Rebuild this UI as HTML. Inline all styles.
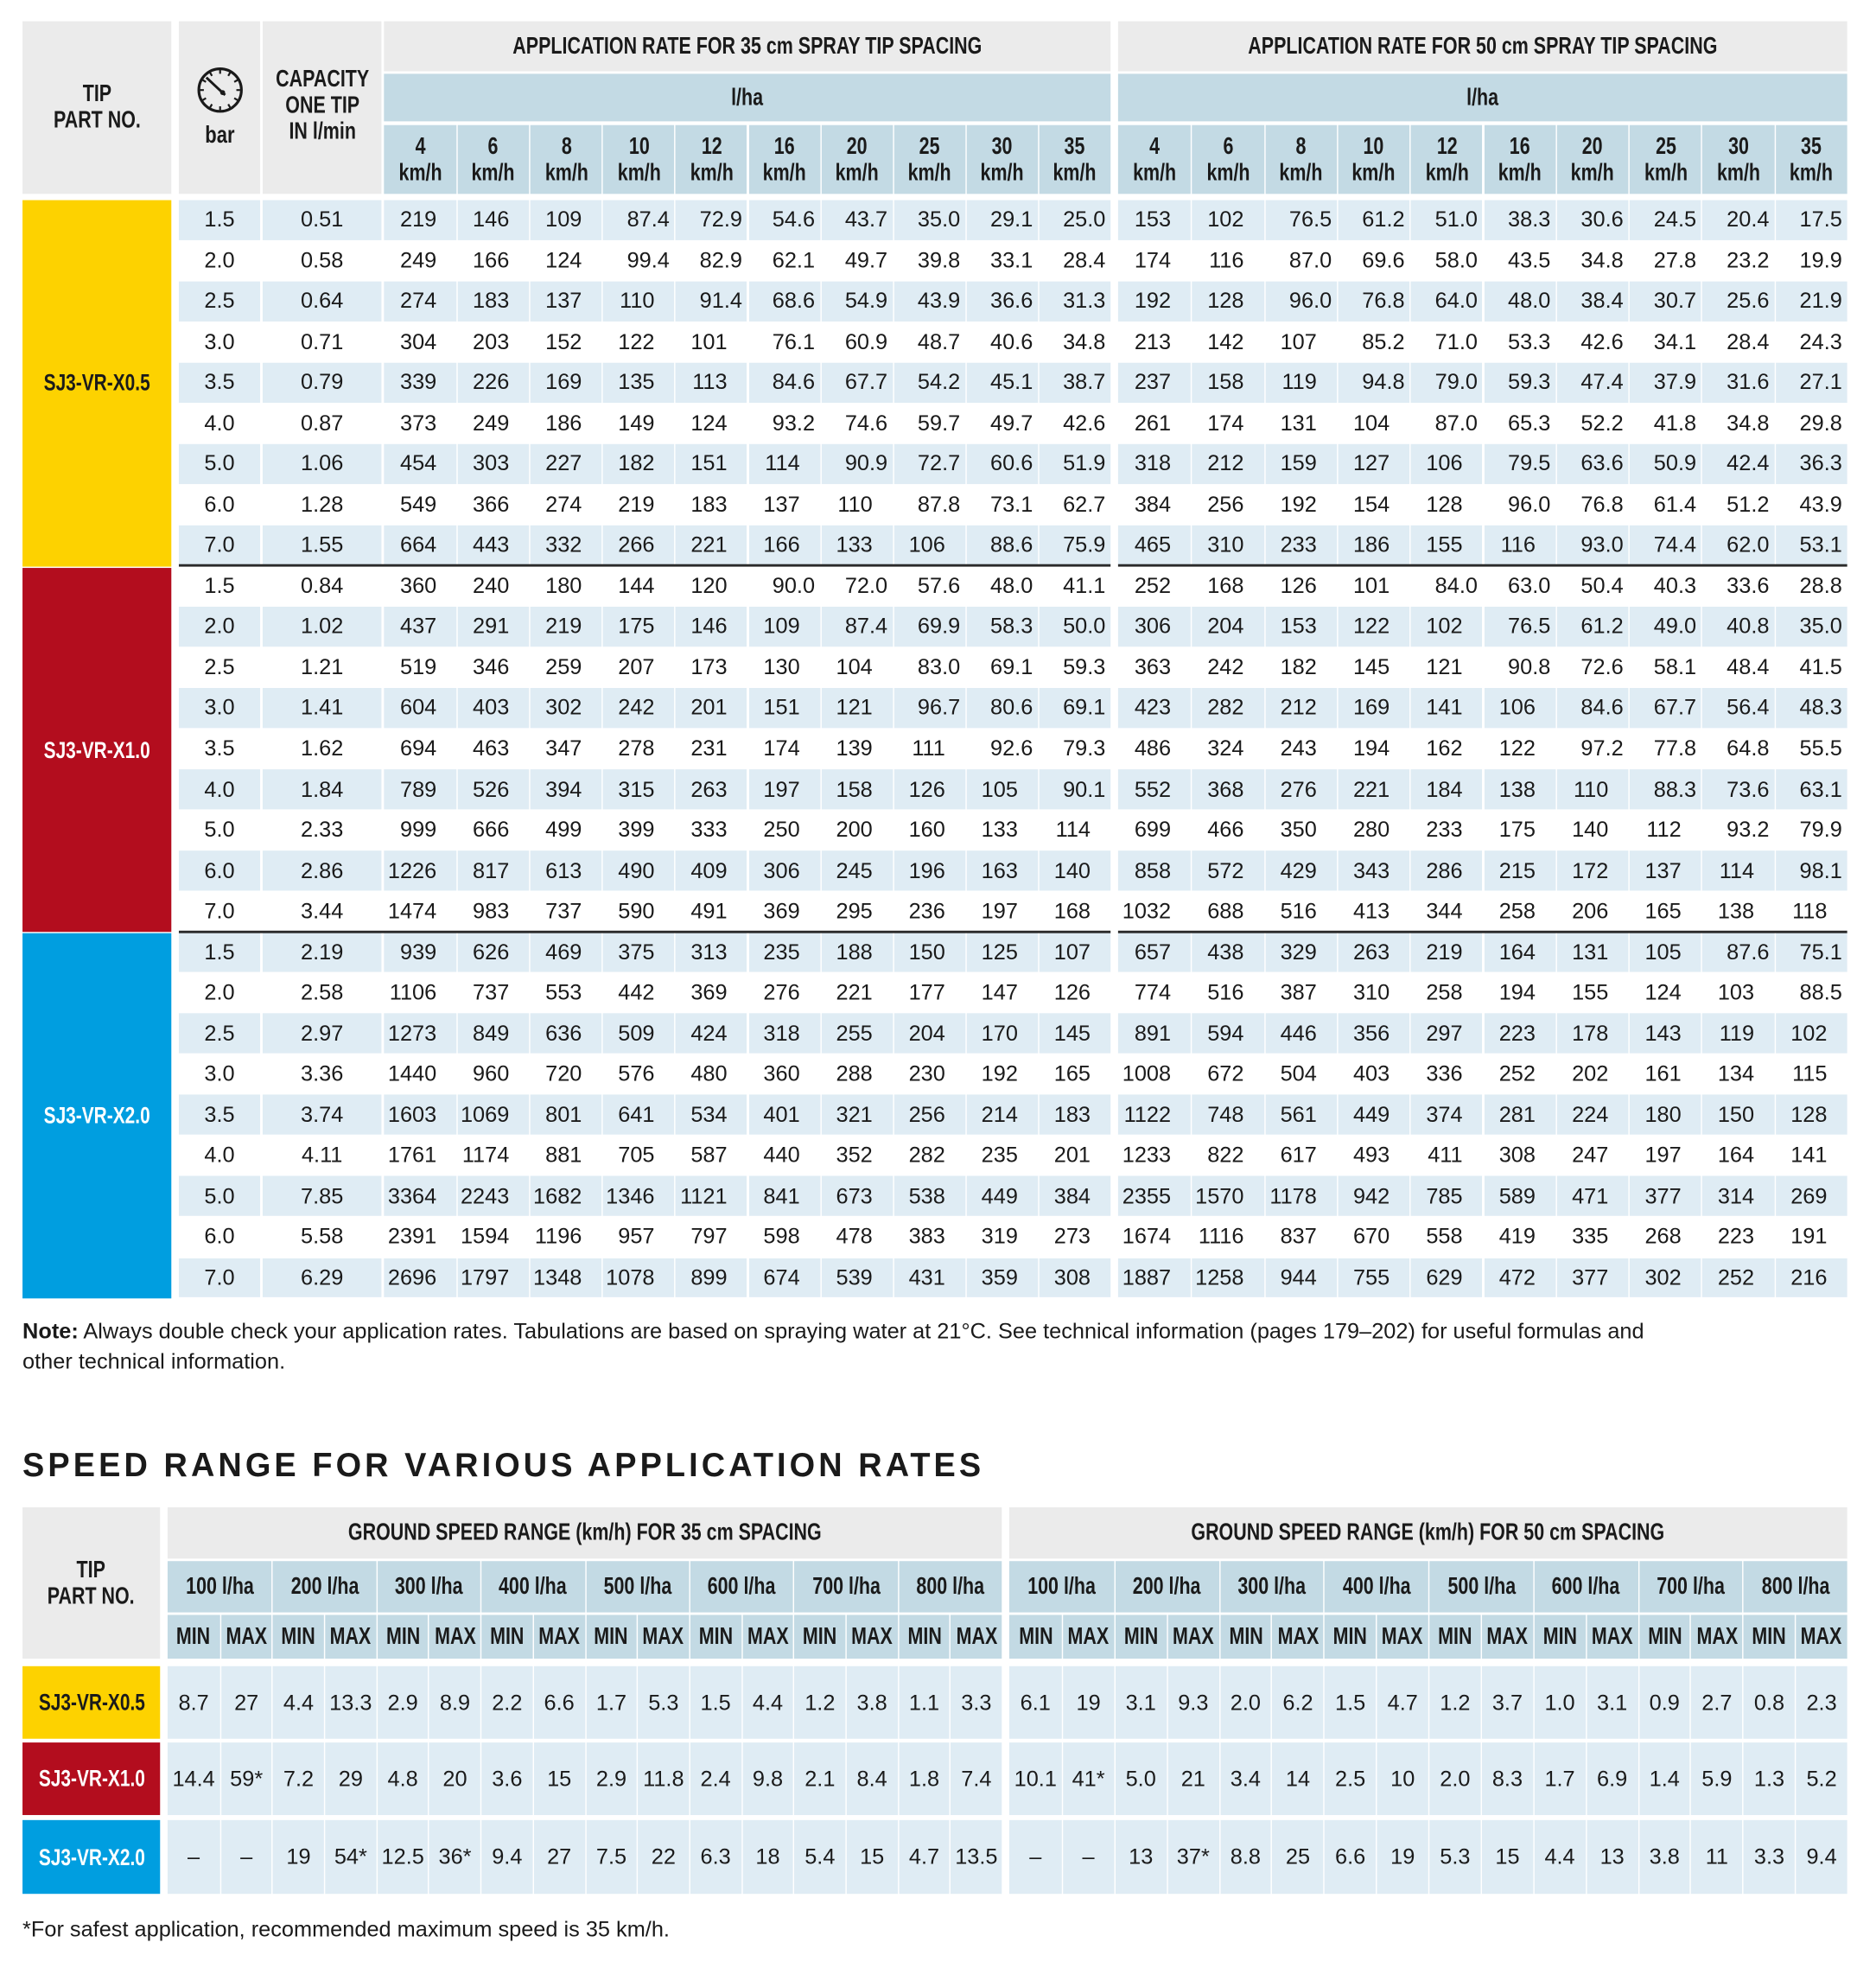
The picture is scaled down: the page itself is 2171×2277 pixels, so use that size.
<!DOCTYPE html>
<html><head><meta charset="utf-8"><style>
html,body{margin:0;padding:0;background:#fff;width:2171px;height:2277px;overflow:hidden}
#w{position:absolute;left:0;top:0;width:1500px;height:1573px;transform:scale(1.4473);transform-origin:0 0;font-family:"Liberation Sans",sans-serif;color:#1a1a1a}
.c{position:absolute;box-sizing:border-box;display:flex;align-items:center;justify-content:center;text-align:center;overflow:visible;white-space:nowrap}
.h{font-weight:bold;font-size:19px;line-height:21px}
.h>span,.t>span{display:inline-block;transform:scaleX(0.78)}
.d{font-size:17.5px}
.r{justify-content:flex-end}
.g{background:#ebebeb}.b{background:#c3dae4}.l{background:#dfecf4}
.t{color:#fff;font-weight:bold;font-size:18.5px}
.ln{position:absolute;height:2px;background:#2a2a2a}
.txt{position:absolute;white-space:nowrap}
</style></head><body><div id="w"></div>
<script>
var W=document.getElementById('w');
function cell(x,y,w,h,cls,txt,style){var d=document.createElement('div');d.className='c '+cls;d.style.left=x+'px';d.style.top=y+'px';d.style.width=w+'px';d.style.height=h+'px';if(style)d.style.cssText+=style;
if(/\b(h|t)\b/.test(cls))d.innerHTML='<span>'+(txt||'')+'</span>';else d.innerHTML=txt||'';W.appendChild(d);return d;}
cell(18,17,119,138,'g h','TIP<br>PART NO.');
var gd=document.createElement('div');gd.className='c';gd.style.cssText='left:143px;top:17px;width:65px;height:138px;background:#ebebeb;flex-direction:column;font-weight:bold;font-size:19px';
gd.innerHTML='<svg width="40" height="40" viewBox="0 0 40 40"><circle cx="20" cy="20" r="17" fill="none" stroke="#1a1a1a" stroke-width="2.2"/><g stroke="#1a1a1a" stroke-width="1.5">'+
(function(){var s='';for(var i=0;i<12;i++){var a=i*Math.PI/6;s+='<line x1="'+(20+13*Math.cos(a)).toFixed(1)+'" y1="'+(20+13*Math.sin(a)).toFixed(1)+'" x2="'+(20+16*Math.cos(a)).toFixed(1)+'" y2="'+(20+16*Math.sin(a)).toFixed(1)+'"/>';}return s;})()+
'<line x1="9" y1="10" x2="24" y2="24" stroke-width="2"/></g><circle cx="22" cy="22" r="2" fill="#1a1a1a"/></svg><div style="margin-top:6px;transform:scaleX(0.8)">bar</div>';W.appendChild(gd);
cell(210,17,95,138,'g h','CAPACITY<br>ONE TIP<br>IN l/min','align-items:flex-start;padding-top:36px');
var speeds=[4,6,8,10,12,16,20,25,30,35];
var groups=[[307,888,'35'],[894,1477,'50']];
groups.forEach(function(g){var x0=g[0],x1=g[1],cw=(x1-x0)/10;
cell(x0,17,x1-x0,40,'g h','APPLICATION RATE FOR '+g[2]+' cm SPRAY TIP SPACING');
cell(x0,59,x1-x0,38,'b h','l/ha');
for(var i=0;i<10;i++)cell(x0+i*cw+(i?1:0),100,cw-(i?1:0),55,'b h',speeds[i]+'<br>km/h');
});
var D=[
["1.5","0.51","219 146 109 87.4 72.9 54.6 43.7 35.0 29.1 25.0","153 102 76.5 61.2 51.0 38.3 30.6 24.5 20.4 17.5"],
["2.0","0.58","249 166 124 99.4 82.9 62.1 49.7 39.8 33.1 28.4","174 116 87.0 69.6 58.0 43.5 34.8 27.8 23.2 19.9"],
["2.5","0.64","274 183 137 110 91.4 68.6 54.9 43.9 36.6 31.3","192 128 96.0 76.8 64.0 48.0 38.4 30.7 25.6 21.9"],
["3.0","0.71","304 203 152 122 101 76.1 60.9 48.7 40.6 34.8","213 142 107 85.2 71.0 53.3 42.6 34.1 28.4 24.3"],
["3.5","0.79","339 226 169 135 113 84.6 67.7 54.2 45.1 38.7","237 158 119 94.8 79.0 59.3 47.4 37.9 31.6 27.1"],
["4.0","0.87","373 249 186 149 124 93.2 74.6 59.7 49.7 42.6","261 174 131 104 87.0 65.3 52.2 41.8 34.8 29.8"],
["5.0","1.06","454 303 227 182 151 114 90.9 72.7 60.6 51.9","318 212 159 127 106 79.5 63.6 50.9 42.4 36.3"],
["6.0","1.28","549 366 274 219 183 137 110 87.8 73.1 62.7","384 256 192 154 128 96.0 76.8 61.4 51.2 43.9"],
["7.0","1.55","664 443 332 266 221 166 133 106 88.6 75.9","465 310 233 186 155 116 93.0 74.4 62.0 53.1"],
["1.5","0.84","360 240 180 144 120 90.0 72.0 57.6 48.0 41.1","252 168 126 101 84.0 63.0 50.4 40.3 33.6 28.8"],
["2.0","1.02","437 291 219 175 146 109 87.4 69.9 58.3 50.0","306 204 153 122 102 76.5 61.2 49.0 40.8 35.0"],
["2.5","1.21","519 346 259 207 173 130 104 83.0 69.1 59.3","363 242 182 145 121 90.8 72.6 58.1 48.4 41.5"],
["3.0","1.41","604 403 302 242 201 151 121 96.7 80.6 69.1","423 282 212 169 141 106 84.6 67.7 56.4 48.3"],
["3.5","1.62","694 463 347 278 231 174 139 111 92.6 79.3","486 324 243 194 162 122 97.2 77.8 64.8 55.5"],
["4.0","1.84","789 526 394 315 263 197 158 126 105 90.1","552 368 276 221 184 138 110 88.3 73.6 63.1"],
["5.0","2.33","999 666 499 399 333 250 200 160 133 114","699 466 350 280 233 175 140 112 93.2 79.9"],
["6.0","2.86","1226 817 613 490 409 306 245 196 163 140","858 572 429 343 286 215 172 137 114 98.1"],
["7.0","3.44","1474 983 737 590 491 369 295 236 197 168","1032 688 516 413 344 258 206 165 138 118"],
["1.5","2.19","939 626 469 375 313 235 188 150 125 107","657 438 329 263 219 164 131 105 87.6 75.1"],
["2.0","2.58","1106 737 553 442 369 276 221 177 147 126","774 516 387 310 258 194 155 124 103 88.5"],
["2.5","2.97","1273 849 636 509 424 318 255 204 170 145","891 594 446 356 297 223 178 143 119 102"],
["3.0","3.36","1440 960 720 576 480 360 288 230 192 165","1008 672 504 403 336 252 202 161 134 115"],
["3.5","3.74","1603 1069 801 641 534 401 321 256 214 183","1122 748 561 449 374 281 224 180 150 128"],
["4.0","4.11","1761 1174 881 705 587 440 352 282 235 201","1233 822 617 493 411 308 247 197 164 141"],
["5.0","7.85","3364 2243 1682 1346 1121 841 673 538 449 384","2355 1570 1178 942 785 589 471 377 314 269"],
["6.0","5.58","2391 1594 1196 957 797 598 478 383 319 273","1674 1116 837 670 558 419 335 268 223 191"],
["7.0","6.29","2696 1797 1348 1078 899 674 539 431 359 308","1887 1258 944 755 629 472 377 302 252 216"]];
var y0=160,rh=32.52;
var tips=[['SJ3-VR-X0.5','#fdd200','#1a1a1a'],['SJ3-VR-X1.0','#b30d1e','#fff'],['SJ3-VR-X2.0','#009ee0','#fff']];
for(var gi=0;gi<3;gi++){var t=tips[gi];var yy=y0+gi*9*rh;cell(18,yy+(gi?1:0),119,9*rh-(gi?1:0),'t',t[0],'background:'+t[1]+';color:'+t[2]);}
D.forEach(function(r,i){var y=y0+i*rh;var cls=(i%2==0)?'l':'';var h=rh-1;
cell(143,y,65,h,cls+' d',r[0]);cell(210,y,95,h,cls+' d',r[1]);
[r[2],r[3]].forEach(function(s,k){var v=s.split(' ');var x0=groups[k][0],cw=(groups[k][1]-x0)/10;
v.forEach(function(val,j){var pr=val.indexOf('.')>=0?4:16;cell(x0+j*cw+(j?1:0),y,cw-(j?1:0),h,cls+' d r',val,'padding-right:'+pr+'px');});});
});
[9,18].forEach(function(n){var y=y0+n*rh-1.5;var a=document.createElement('div');a.className='ln';a.style.cssText='left:143px;top:'+y+'px;width:745px';W.appendChild(a);var b=document.createElement('div');b.className='ln';b.style.cssText='left:894px;top:'+y+'px;width:583px';W.appendChild(b);});
var n=document.createElement('div');n.className='txt';n.style.cssText='left:18px;top:1052px;font-size:17.5px;line-height:24px;width:1320px;white-space:normal';n.innerHTML='<b>Note:</b> Always double check your application rates. Tabulations are based on spraying water at 21°C. See technical information (pages 179–202) for useful formulas and other technical information.';W.appendChild(n);
var ti=document.createElement('div');ti.className='txt';ti.style.cssText='left:18px;top:1156px;font-size:27px;font-weight:bold;letter-spacing:2.9px;transform:scaleX(0.97);transform-origin:0 0';ti.textContent='SPEED RANGE FOR VARIOUS APPLICATION RATES';W.appendChild(ti);
cell(18,1205,110,121,'g h','TIP<br>PART NO.');
var bg=[[134,801,'35'],[807,1477,'50']];
var B=[["8.7 27 4.4 13.3 2.9 8.9 2.2 6.6 1.7 5.3 1.5 4.4 1.2 3.8 1.1 3.3","6.1 19 3.1 9.3 2.0 6.2 1.5 4.7 1.2 3.7 1.0 3.1 0.9 2.7 0.8 2.3"],
["14.4 59* 7.2 29 4.8 20 3.6 15 2.9 11.8 2.4 9.8 2.1 8.4 1.8 7.4","10.1 41* 5.0 21 3.4 14 2.5 10 2.0 8.3 1.7 6.9 1.4 5.9 1.3 5.2"],
["– – 19 54* 12.5 36* 9.4 27 7.5 22 6.3 18 5.4 15 4.7 13.5","– – 13 37* 8.8 25 6.6 19 5.3 15 4.4 13 3.8 11 3.3 9.4"]];
var rates=[100,200,300,400,500,600,700,800];
var rys=[[1332,58],[1393,58],[1455,59]];
bg.forEach(function(g,k){var x0=g[0],w=g[1]-g[0],cw=w/16;
cell(x0,1205,w,41,'g h','GROUND SPEED RANGE (km/h) FOR '+g[2]+' cm SPACING');
for(var i=0;i<8;i++)cell(x0+i*2*cw+(i?1:0),1248,2*cw-(i?1:0),41,'b h',rates[i]+' l/ha');
for(var i=0;i<16;i++)cell(x0+i*cw+(i?1:0),1291,cw-(i?1:0),35,'b h',i%2?'MAX':'MIN');
B.forEach(function(r,ri){var v=r[k].split(' ');for(var i=0;i<16;i++)cell(x0+i*cw+(i?1:0),rys[ri][0],cw-(i?1:0),rys[ri][1],'l d',v[i]);});
});
rys.forEach(function(r,ri){var t=tips[ri];cell(18,r[0],110,r[1],'t',t[0],'background:'+t[1]+';color:'+t[2]);});
var f=document.createElement('div');f.className='txt';f.style.cssText='left:18px;top:1532px;font-size:17.5px';f.textContent='*For safest application, recommended maximum speed is 35 km/h.';W.appendChild(f);
</script></body></html>
